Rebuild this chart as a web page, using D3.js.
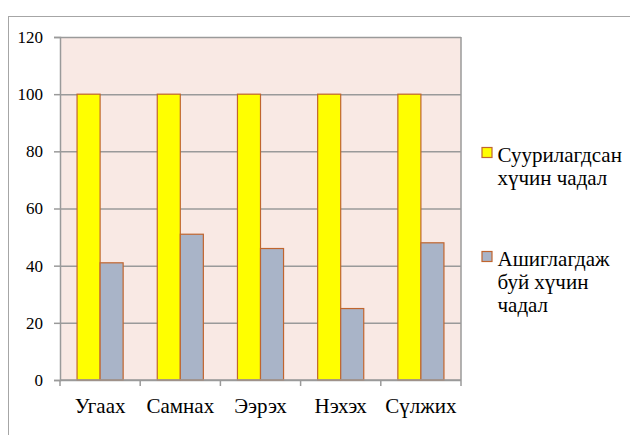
<!DOCTYPE html>
<html>
<head>
<meta charset="utf-8">
<script src="https://cdn.jsdelivr.net/npm/d3@7"></script>
</head>
<body style="margin:0; background:#fff">
<script>
const categories = ['Угаах', 'Самнах', 'Ээрэх', 'Нэхэх', 'Сүлжих']
const installed = [100, 100, 100, 100, 100]
const used = [41, 51, 46, 25, 48]
const seriesNames = [['Суурилагдсан', 'хүчин чадал'], ['Ашиглагдаж', 'буй хүчин', 'чадал']]
const yTicks = [0, 20, 40, 60, 80, 100, 120]

const WIDTH = 630
const HEIGHT = 435
const PLOT = { left: 60, top: 37, right: 461, bottom: 380 }
const COLORS = ['#ffff00', '#a9b4c8']
const BAR_STROKE = '#c0652f'
const GRID_COLOR = '#9a9a9a'
const FONT = 'Liberation Serif'

const svg = d3.select('body')
  .append('svg')
  .attr('width', WIDTH)
  .attr('height', HEIGHT)
  .style('font-family', FONT)

// outer chart frame
svg.append('rect')
  .attr('x', 8.5)
  .attr('y', 16.5)
  .attr('width', 640)
  .attr('height', 440)
  .attr('fill', 'none')
  .attr('stroke', '#a6a6a6')
  .attr('stroke-width', 1)

const x0 = d3.scaleBand()
  .domain(categories)
  .range([PLOT.left, PLOT.right])

const x1 = d3.scaleBand()
  .domain([0, 1])
  .range([0, x0.bandwidth()])
  .paddingInner(0)
  .paddingOuter(0.74)

const y = d3.scaleLinear()
  .domain([0, 120])
  .range([PLOT.bottom, PLOT.top])

// plot background
svg.append('rect')
  .attr('x', PLOT.left)
  .attr('y', PLOT.top)
  .attr('width', PLOT.right - PLOT.left)
  .attr('height', PLOT.bottom - PLOT.top)
  .attr('fill', '#f9e9e4')

// gridlines
svg.append('g')
  .attr('transform', 'translate(' + PLOT.left + ',0)')
  .call(d3.axisLeft(y).tickValues(yTicks).tickSize(-(PLOT.right - PLOT.left)).tickFormat(''))
  .call(g => g.select('.domain').remove())
  .call(g => g.selectAll('text').remove())
  .call(g => g.selectAll('line').attr('stroke', GRID_COLOR).attr('stroke-width', 1.5))

// right border of plot
svg.append('line')
  .attr('x1', PLOT.right).attr('x2', PLOT.right)
  .attr('y1', PLOT.top).attr('y2', PLOT.bottom)
  .attr('stroke', GRID_COLOR)
  .attr('stroke-width', 1.5)

// bars
const groups = svg.append('g')
  .selectAll('g')
  .data(categories)
  .enter()
  .append('g')
  .attr('transform', d => 'translate(' + x0(d) + ',0)')

groups.selectAll('rect')
  .data((d, i) => [installed[i], used[i]])
  .enter()
  .append('rect')
  .attr('x', (d, j) => x1(j))
  .attr('y', d => y(d))
  .attr('width', x1.bandwidth())
  .attr('height', d => y(0) - y(d))
  .attr('fill', (d, j) => COLORS[j])
  .attr('stroke', BAR_STROKE)
  .attr('stroke-width', 1.2)

// y axis
const yAxis = svg.append('g')
  .attr('transform', 'translate(' + PLOT.left + ',0)')
  .call(d3.axisLeft(y).tickValues(yTicks).tickSize(6).tickPadding(11))
yAxis
  .style('font-family', FONT)
  .style('font-size', '17px')
yAxis.select('.domain').attr('stroke', GRID_COLOR).attr('stroke-width', 1.5)
yAxis.selectAll('line').attr('stroke', GRID_COLOR).attr('stroke-width', 1.5)
yAxis.selectAll('text')
  .attr('fill', '#000')
  .style('font-family', FONT)
  .style('font-size', '17px')

// x axis
const xTickPositions = d3.range(categories.length + 1).map(i => PLOT.left + i * x0.step())
svg.append('line')
  .attr('x1', PLOT.left).attr('x2', PLOT.right)
  .attr('y1', PLOT.bottom).attr('y2', PLOT.bottom)
  .attr('stroke', GRID_COLOR)
  .attr('stroke-width', 1.5)
svg.append('g')
  .selectAll('line')
  .data(xTickPositions)
  .enter()
  .append('line')
  .attr('x1', d => d).attr('x2', d => d)
  .attr('y1', PLOT.bottom).attr('y2', PLOT.bottom + 6)
  .attr('stroke', GRID_COLOR)
  .attr('stroke-width', 1.5)
svg.append('g')
  .selectAll('text')
  .data(categories)
  .enter()
  .append('text')
  .attr('x', d => x0(d) + x0.bandwidth() / 2)
  .attr('y', 413)
  .attr('text-anchor', 'middle')
  .style('font-family', FONT)
  .style('font-size', '21px')
  .text(d => d)

// legend
const legendY = [152.5, 256.5]
const legend = svg.append('g')
  .selectAll('g')
  .data(seriesNames)
  .enter()
  .append('g')
  .attr('transform', (d, i) => 'translate(481.5,' + legendY[i] + ')')

legend.append('rect')
  .attr('x', 0.5)
  .attr('y', -5)
  .attr('width', 10)
  .attr('height', 10)
  .attr('fill', (d, i) => COLORS[i])
  .attr('stroke', BAR_STROKE)
  .attr('stroke-width', 1.2)

legend.append('text')
  .attr('y', 9)
  .style('font-family', FONT)
  .style('font-size', '21px')
  .selectAll('tspan')
  .data(d => d)
  .enter()
  .append('tspan')
  .attr('x', 16)
  .attr('dy', (d, i) => i === 0 ? 0 : 23.3)
  .text(d => d)
</script>
</body>
</html>
